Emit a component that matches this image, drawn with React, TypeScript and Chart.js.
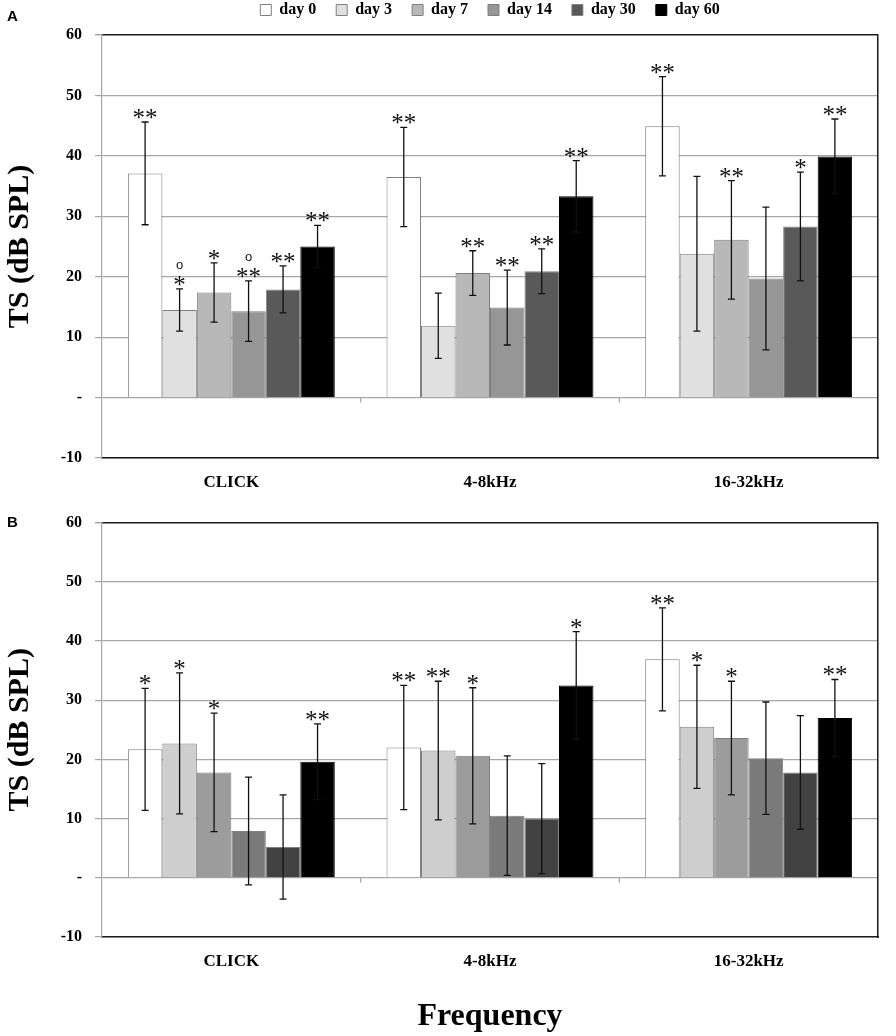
import React, { useEffect, useRef } from 'react';
import { Chart, registerables } from 'chart.js';

Chart.register(...registerables);

const CATEGORIES = ['CLICK', '4-8kHz', '16-32kHz'];
const DAYS = ['day 0', 'day 3', 'day 7', 'day 14', 'day 30', 'day 60'];
const Y_TICKS = [-10, 0, 10, 20, 30, 40, 50, 60];
const Y_TICK_LABELS = ['-10', '-', '10', '20', '30', '40', '50', '60'];

// Panel A: rows = days, columns = categories
const A_MEANS = [
  [37.1, 36.5, 44.9],
  [14.5, 11.9, 23.8],
  [17.4, 20.6, 26.1],
  [14.3, 14.9, 19.7],
  [17.9, 20.9, 28.3],
  [25.0, 33.3, 39.9],
];
const A_ERRORS = [
  [8.5, 8.2, 8.2],
  [3.5, 5.4, 12.8],
  [4.9, 3.7, 9.8],
  [5.0, 6.2, 11.8],
  [3.9, 3.7, 9.0],
  [3.5, 5.9, 6.2],
];
const A_SIGNIF = [
  ['**', '**', '**'],
  ['*', '', ''],
  ['*', '**', '**'],
  ['**', '**', ''],
  ['**', '**', '*'],
  ['**', '**', '**'],
];
const A_MARKS = [
  ['', '', ''],
  ['o', '', ''],
  ['', '', ''],
  ['o', '', ''],
  ['', '', ''],
  ['', '', ''],
];

// Panel B
const B_MEANS = [
  [21.7, 22.0, 36.9],
  [22.7, 21.5, 25.5],
  [17.8, 20.6, 23.6],
  [7.9, 10.5, 20.2],
  [5.2, 10.0, 17.8],
  [19.6, 32.5, 27.0],
];
const B_ERRORS = [
  [10.3, 10.5, 8.7],
  [11.9, 11.7, 10.4],
  [10.0, 11.5, 9.6],
  [9.1, 10.1, 9.5],
  [8.8, 9.3, 9.6],
  [6.4, 9.1, 6.5],
];
const B_SIGNIF = [
  ['*', '**', '**'],
  ['*', '**', '*'],
  ['*', '*', '*'],
  ['', '', ''],
  ['', '', ''],
  ['**', '*', '**'],
];
const B_MARKS = [
  ['', '', ''],
  ['', '', ''],
  ['', '', ''],
  ['', '', ''],
  ['', '', ''],
  ['', '', ''],
];

const A_COLORS = ['#ffffff', '#e0e0e0', '#b8b8b8', '#969696', '#595959', '#000000'];
const B_COLORS = ['#ffffff', '#cecece', '#9c9c9c', '#7a7a7a', '#424242', '#000000'];

const SERIF = '"Liberation Serif", "Times New Roman", serif';
const GRID_GREY = '#a6a6a6';
const DARK = '#1a1a1a';

const errorBarPlugin = {
  id: 'errorBars',
  afterDatasetsDraw(chart: any, _args: any, opts: any) {
    const ctx = chart.ctx;
    const y = chart.scales.y;
    const xs = chart.scales.x;
    ctx.save();
    // small category-boundary ticks on the zero line
    const y0 = y.getPixelForValue(0);
    ctx.strokeStyle = GRID_GREY;
    ctx.lineWidth = 1.2;
    ctx.beginPath();
    for (let i = 1; i < CATEGORIES.length; i++) {
      const px = xs.getPixelForValue(i - 0.5);
      ctx.moveTo(px, y0);
      ctx.lineTo(px, y0 + 5);
    }
    ctx.stroke();

    chart.data.datasets.forEach((ds: any, di: number) => {
      const meta = chart.getDatasetMeta(di);
      meta.data.forEach((bar: any, i: number) => {
        const v = ds.data[i];
        const e = opts.errors[di][i];
        const yt = y.getPixelForValue(v + e);
        const yb = y.getPixelForValue(v - e);
        const x = bar.x;
        ctx.strokeStyle = '#111';
        ctx.lineWidth = 1.3;
        ctx.beginPath();
        ctx.moveTo(x, yt);
        ctx.lineTo(x, yb);
        ctx.moveTo(x - 3.5, yt);
        ctx.lineTo(x + 3.5, yt);
        ctx.moveTo(x - 3.5, yb);
        ctx.lineTo(x + 3.5, yb);
        ctx.stroke();
        const s = opts.signif[di][i];
        ctx.fillStyle = '#111';
        ctx.textAlign = 'center';
        ctx.textBaseline = 'alphabetic';
        if (s) {
          ctx.font = '25px ' + SERIF;
          ctx.fillText(s, x, yt + 4);
        }
        const m = opts.marks[di][i];
        if (m) {
          ctx.font = '13px "Liberation Sans", Arial, sans-serif';
          ctx.fillText(m, x, yt - 20);
        }
      });
    });
    ctx.restore();
  },
};

function makeConfig(
  means: number[][],
  errors: number[][],
  signif: string[][],
  marks: string[][],
  colors: string[],
  withLegend: boolean,
  withXTitle: boolean,
  xHeight: number,
  topPad: number
): any {
  return {
    type: 'bar',
    data: {
      labels: CATEGORIES,
      datasets: DAYS.map((d, di) => ({
        label: d,
        data: means[di],
        backgroundColor: colors[di],
        borderColor: di === 5 ? '#000000' : '#7f7f7f',
        borderWidth: 1,
        barPercentage: 1,
        categoryPercentage: 0.8,
      })),
    },
    options: {
      animation: false,
      responsive: false,
      maintainAspectRatio: false,
      layout: { padding: { left: 0, right: 18, top: topPad, bottom: 0 } },
      plugins: {
        legend: {
          display: withLegend,
          position: 'top',
          align: 'center',
          fullSize: false,
          weight: 3000,
          labels: {
            boxWidth: 11,
            boxHeight: 11,
            padding: 20,
            color: '#000',
            font: { size: 16, weight: 'bold', family: SERIF },
          },
        },
        title: {
          display: withLegend,
          text: '',
          padding: 0,
          font: { size: 7, lineHeight: 1 },
        },
        tooltip: { enabled: false },
        errorBars: { errors, signif, marks },
      },
      scales: {
        x: {
          type: 'category',
          offset: true,
          grid: { display: false, drawTicks: false },
          border: { display: true, color: DARK, width: 1.5 },
          ticks: {
            color: '#000',
            padding: 14,
            font: { size: 17, weight: 'bold', family: SERIF },
          },
          title: {
            display: withXTitle,
            text: 'Frequency',
            color: '#000',
            padding: { top: 0, bottom: 0 },
            font: { size: 32, weight: 'bold', family: SERIF },
          },
          afterFit: (s: any) => {
            s.height = xHeight;
          },
        },
        y: {
          type: 'linear',
          position: 'left',
          min: -10,
          max: 60,
          ticks: {
            stepSize: 10,
            color: '#000',
            padding: 13,
            font: { size: 16, weight: 'bold', family: SERIF },
            callback: (value: number) => {
              const idx = Y_TICKS.indexOf(value);
              return idx >= 0 ? Y_TICK_LABELS[idx] : '';
            },
          },
          grid: {
            color: (c: any) => (c.tick && c.tick.value === 60 ? DARK : GRID_GREY),
            lineWidth: (c: any) => (c.tick && c.tick.value === 60 ? 1.5 : 1.2),
            tickColor: GRID_GREY,
            tickLength: 7,
            drawTicks: true,
          },
          border: { display: true, color: GRID_GREY, width: 1.2 },
          title: {
            display: true,
            text: 'TS (dB SPL)',
            color: '#000',
            padding: { top: 2, bottom: 0 },
            font: { size: 30, weight: 'bold', family: SERIF },
          },
          afterFit: (s: any) => {
            s.width = 102;
          },
        },
        y2: {
          type: 'linear',
          position: 'right',
          min: -10,
          max: 60,
          grid: { display: false, drawTicks: false },
          ticks: { display: false },
          border: { display: true, color: DARK, width: 1.5 },
          afterFit: (s: any) => {
            s.width = 0;
          },
        },
      },
    },
    plugins: [errorBarPlugin],
  };
}

export default function App() {
  const refA = useRef<HTMLCanvasElement | null>(null);
  const refB = useRef<HTMLCanvasElement | null>(null);

  useEffect(() => {
    Chart.defaults.font.family = SERIF;
    Chart.defaults.color = '#000';
    const a = new Chart(
      refA.current as HTMLCanvasElement,
      makeConfig(A_MEANS, A_ERRORS, A_SIGNIF, A_MARKS, A_COLORS, true, false, 42, 0)
    );
    const b = new Chart(
      refB.current as HTMLCanvasElement,
      makeConfig(B_MEANS, B_ERRORS, B_SIGNIF, B_MARKS, B_COLORS, false, true, 99, 14)
    );
    return () => {
      a.destroy();
      b.destroy();
    };
  }, []);

  const panelLabel: React.CSSProperties = {
    position: 'absolute',
    left: 7,
    fontFamily: '"Liberation Sans", Arial, sans-serif',
    fontWeight: 'bold',
    fontSize: 15,
    lineHeight: '16px',
    color: '#000',
  };

  return (
    <div
      style={{
        position: 'absolute',
        left: 0,
        top: 0,
        width: 896,
        height: 1036,
        overflow: 'hidden',
        background: '#fff',
      }}
    >
      <canvas
        ref={refA}
        width={896}
        height={518}
        style={{ position: 'absolute', left: 0, top: -18, width: 896, height: 518 }}
      />
      <canvas
        ref={refB}
        width={896}
        height={536}
        style={{ position: 'absolute', left: 0, top: 500, width: 896, height: 536 }}
      />
      <div style={{ ...panelLabel, top: 8 }}>A</div>
      <div style={{ ...panelLabel, top: 514 }}>B</div>
    </div>
  );
}
